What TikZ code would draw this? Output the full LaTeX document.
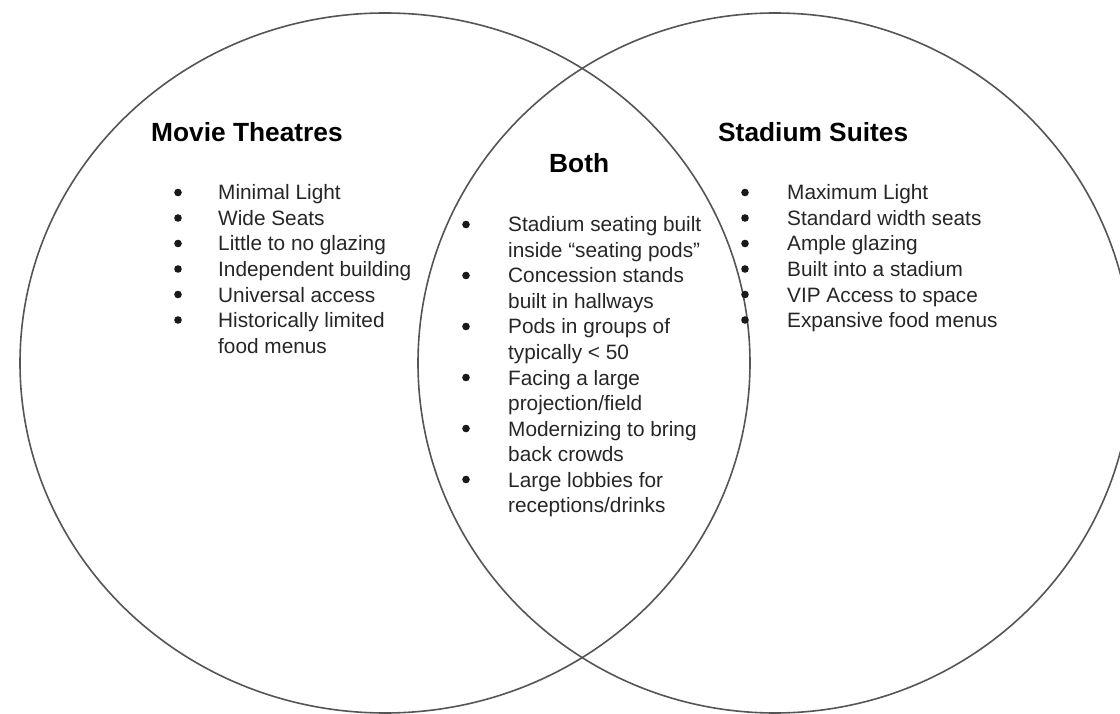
\documentclass[tikz,border=0pt]{standalone}
\usepackage{fontspec}
\setmainfont{Liberation Sans}
\definecolor{ringgray}{HTML}{555555}
\definecolor{textgray}{HTML}{262626}
\begin{document}
\begin{tikzpicture}[x=1pt,y=-1pt,
  ring/.style={draw=ringgray, line width=1.6pt},
  heading/.style={anchor=base west, inner sep=0pt, font=\fontsize{26.3}{30}\selectfont\bfseries, text=black},
  item/.style={anchor=base west, inner sep=0pt, font=\fontsize{20.8}{25}\selectfont, text=textgray},
  dot/.style={circle, fill=black!90, inner sep=0pt, minimum size=7.6pt, yshift=7.5pt}]
\fill[white] (0,0) rectangle (1120,714);
\useasboundingbox (0,0) rectangle (1120,714);
\draw[ring] (385,363) ellipse [x radius=365pt, y radius=350pt];
\draw[ring] (775,363) ellipse [x radius=357pt, y radius=350pt];

% Left set
\node[heading] (hL) at (151,142) {Movie Theatres};
\node[dot] (bL1) at (178,200) {}; \node[item] (tL1) at (218,200) {Minimal Light};
\node[dot] (bL2) at (178,225.5) {}; \node[item] (tL2) at (218,225.5) {Wide Seats};
\node[dot] (bL3) at (178,251) {}; \node[item] (tL3) at (218,251) {Little to no glazing};
\node[dot] (bL4) at (178,276.5) {}; \node[item] (tL4) at (218,276.5) {Independent building};
\node[dot] (bL5) at (178,302) {}; \node[item] (tL5) at (218,302) {Universal access};
\node[dot] (bL6) at (178,327.5) {}; \node[item] (tL6) at (218,327.5) {Historically limited};
\node[item] (tL7) at (218,353) {food menus};

% Both
\node[heading] (hB) at (549,173) {Both};
\node[dot] (bB1) at (466,232) {}; \node[item] (tB1) at (508,232) {Stadium seating built};
\node[item] (tB2) at (508,257.5) {inside “seating pods”};
\node[dot] (bB3) at (466,283) {}; \node[item] (tB3) at (508,283) {Concession stands};
\node[item] (tB4) at (508,308.5) {built in hallways};
\node[dot] (bB5) at (466,334) {}; \node[item] (tB5) at (508,334) {Pods in groups of};
\node[item] (tB6) at (508,359.5) {typically < 50};
\node[dot] (bB7) at (466,385) {}; \node[item] (tB7) at (508,385) {Facing a large};
\node[item] (tB8) at (508,410.5) {projection/field};
\node[dot] (bB9) at (466,436) {}; \node[item] (tB9) at (508,436) {Modernizing to bring};
\node[item] (tB10) at (508,461.5) {back crowds};
\node[dot] (bB11) at (466,487) {}; \node[item] (tB11) at (508,487) {Large lobbies for};
\node[item] (tB12) at (508,512.5) {receptions/drinks};

% Right set
\node[heading] (hR) at (718,142) {Stadium Suites};
\node[dot] (bR1) at (745,200) {}; \node[item] (tR1) at (787,200) {Maximum Light};
\node[dot] (bR2) at (745,225.5) {}; \node[item] (tR2) at (787,225.5) {Standard width seats};
\node[dot] (bR3) at (745,251) {}; \node[item] (tR3) at (787,251) {Ample glazing};
\node[dot] (bR4) at (745,276.5) {}; \node[item] (tR4) at (787,276.5) {Built into a stadium};
\node[dot] (bR5) at (745,302) {}; \node[item] (tR5) at (787,302) {VIP Access to space};
\node[dot] (bR6) at (745,327.5) {}; \node[item] (tR6) at (787,327.5) {Expansive food menus};
\end{tikzpicture}
\end{document}
